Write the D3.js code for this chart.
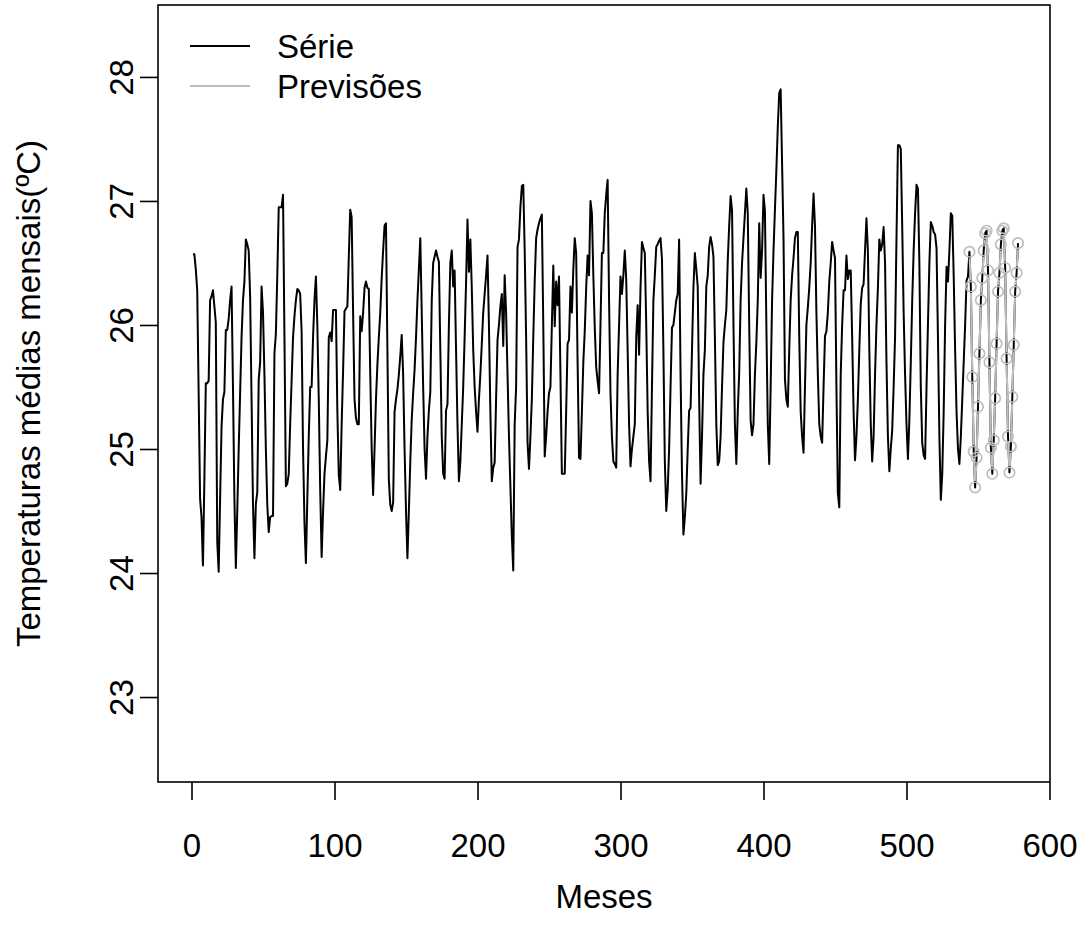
<!DOCTYPE html>
<html><head><meta charset="utf-8">
<script src="https://cdn.jsdelivr.net/npm/d3@7"></script>
<style>
body{margin:0;background:#fff}
svg{display:block}
text{font-family:"Liberation Sans",Arial,Helvetica,sans-serif;fill:#000}
</style>
</head><body>
<svg id="chart" width="1092" height="943"></svg>
<script>
// Observed monthly series (months 1..543)
const serie = [
26.57,26.57,26.45,26.28,25.45,24.60,24.45,24.06,24.75,25.53,25.53,25.55,
26.20,26.23,26.28,26.15,26.02,24.25,24.01,24.60,25.18,25.40,25.46,25.96,
25.96,26.05,26.20,26.31,25.50,24.60,24.04,24.50,25.00,25.45,25.90,26.20,
26.35,26.69,26.65,26.60,26.23,25.40,24.55,24.12,24.56,24.65,25.56,25.70,
26.31,26.10,25.60,25.00,24.55,24.33,24.45,24.46,24.46,25.77,25.93,26.40,
26.95,26.95,26.95,27.05,25.90,24.70,24.72,24.80,25.20,25.55,25.90,26.07,
26.20,26.29,26.28,26.25,25.95,25.00,24.40,24.08,24.60,25.10,25.50,25.50,
25.90,26.20,26.39,26.00,25.40,24.67,24.13,24.50,24.80,24.94,25.07,25.90,
25.94,25.87,26.12,26.12,26.12,25.30,24.79,24.67,25.20,25.63,26.11,26.13,
26.15,26.55,26.93,26.87,26.10,25.40,25.25,25.20,25.20,26.07,25.95,26.10,
26.30,26.35,26.30,26.29,25.60,25.00,24.63,25.00,25.40,25.68,25.90,26.10,
26.38,26.60,26.80,26.82,25.80,24.75,24.55,24.50,24.57,25.30,25.40,25.48,
25.60,25.75,25.92,25.60,25.00,24.50,24.12,24.50,24.90,25.24,25.45,25.64,
25.90,26.20,26.45,26.70,26.10,25.50,25.00,24.76,25.10,25.31,25.46,26.20,
26.50,26.55,26.60,26.55,26.51,25.80,25.10,24.80,24.76,25.31,25.36,26.00,
26.50,26.60,26.31,26.44,25.80,25.20,24.74,24.90,25.20,25.50,25.90,26.34,
26.85,26.43,26.69,26.30,25.80,25.50,25.30,25.14,25.40,25.60,25.85,26.10,
26.25,26.40,26.56,26.00,25.30,24.74,24.85,24.89,25.40,25.88,26.00,26.15,
26.25,25.83,26.40,26.10,25.60,25.10,24.70,24.30,24.02,25.20,25.50,26.63,
26.69,26.95,27.12,27.13,26.60,25.90,25.05,24.84,25.10,25.40,25.90,26.35,
26.70,26.77,26.82,26.86,26.89,26.00,24.94,25.10,25.30,25.45,25.50,26.00,
26.48,25.99,26.35,26.16,26.39,25.60,24.80,24.80,24.80,25.30,25.85,25.88,
26.31,26.10,26.45,26.70,26.58,25.70,24.93,24.92,25.30,25.70,25.95,26.30,
26.56,26.40,27.00,26.90,26.40,25.98,25.66,25.55,25.45,26.00,26.58,26.58,
26.90,27.05,27.17,26.20,25.45,25.10,24.90,24.88,24.85,25.60,26.00,26.39,
26.25,26.40,26.60,26.37,25.80,25.20,24.86,25.00,25.10,25.20,25.90,26.16,
25.76,26.30,26.67,26.62,26.58,26.00,25.30,24.90,24.74,25.50,26.20,26.40,
26.63,26.65,26.68,26.70,26.53,25.80,24.90,24.50,24.67,25.00,25.50,25.98,
26.00,26.10,26.20,26.25,26.69,25.60,24.80,24.31,24.45,24.64,25.00,25.31,
25.33,25.80,26.30,26.58,26.45,26.31,25.40,24.72,25.10,25.60,25.80,26.31,
26.40,26.63,26.71,26.65,26.55,25.90,25.20,24.87,24.90,25.10,25.50,25.86,
26.00,26.12,26.52,26.80,27.04,26.92,26.00,25.20,24.88,25.30,25.61,26.20,
26.50,26.70,26.90,27.10,26.90,26.00,25.23,25.11,25.20,25.60,25.86,26.20,
26.82,26.38,26.60,27.05,26.92,26.00,25.20,24.88,25.50,26.20,26.60,26.93,
27.25,27.60,27.87,27.90,27.30,26.70,25.56,25.40,25.34,25.80,26.20,26.40,
26.54,26.70,26.75,26.75,25.90,25.30,25.10,24.97,25.50,26.00,26.14,26.30,
26.50,26.80,27.06,26.80,26.10,25.60,25.20,25.10,25.05,25.50,25.91,25.95,
26.10,26.35,26.50,26.67,26.60,26.54,25.50,24.64,24.53,25.60,26.00,26.28,
26.28,26.56,26.37,26.44,26.44,25.90,25.30,24.91,25.10,25.40,25.80,26.17,
26.30,26.33,26.60,26.86,26.60,25.80,25.20,24.90,25.10,25.60,26.00,26.30,
26.69,26.60,26.65,26.79,26.50,25.70,25.10,24.82,25.00,25.15,25.50,25.90,
26.70,27.45,27.45,27.42,26.80,26.10,25.60,25.20,24.92,25.23,25.70,26.20,
26.60,26.90,27.13,27.10,26.50,25.50,25.05,24.95,24.92,25.50,26.00,26.50,
26.83,26.80,26.75,26.73,26.62,25.90,25.10,24.59,24.80,25.30,26.00,26.47,
26.35,26.60,26.90,26.88,26.40,25.80,25.30,25.00,24.88,25.10,25.40,25.70,
26.00,26.36,26.39
];
// Forecast values (months 544..578)
const previsoes = [
26.59,26.31,25.58,24.98,24.69,24.93,25.34,25.77,26.20,26.38,26.60,26.74,
26.76,26.44,25.70,25.01,24.80,25.07,25.41,25.85,26.27,26.42,26.65,26.76,
26.78,26.46,25.73,25.10,24.81,25.02,25.42,25.84,26.27,26.42,26.66
];
const firstForecastMonth = 544;
const xTicks = [0,100,200,300,400,500,600];
const yTicks = [23,24,25,26,27,28];
const legendLabels = ["Série","Previsões"];
const xTitle = "Meses";
const yTitle = "Temperaturas médias mensais(ºC)";

const FS = "33px";
const plot = {left:158, right:1050, top:5, bottom:782};
const svg = d3.select("#chart");

const x = d3.scaleLinear().domain([-23.43, 600.35]).range([plot.left, plot.right]);
const y = d3.scaleLinear().domain([22.315, 28.58]).range([plot.bottom, plot.top]);

const serieData = serie.map((v,i)=>({m:i+1, v}));
const prevData = previsoes.map((v,i)=>({m:firstForecastMonth+i, v}));
const allData = serieData.concat(prevData);

const line = d3.line().x(d=>x(d.m)).y(d=>y(d.v));

// black line (series + forecast)
svg.append("path").datum(allData)
  .attr("d", line).attr("fill","none").attr("stroke","#000")
  .attr("stroke-width",2).attr("stroke-linejoin","round");

// gray forecast, R type="b" style
const gray = "#BEBEBE";
const gap = 6.5;
const gSeg = svg.append("g");
for (let i=0;i<prevData.length-1;i++){
  const x1=x(prevData[i].m), y1=y(prevData[i].v), x2=x(prevData[i+1].m), y2=y(prevData[i+1].v);
  const dx=x2-x1, dy=y2-y1, d=Math.hypot(dx,dy);
  if (d>2*gap){
    const ux=dx/d, uy=dy/d;
    gSeg.append("line").attr("x1",x1+ux*gap).attr("y1",y1+uy*gap)
      .attr("x2",x2-ux*gap).attr("y2",y2-uy*gap)
      .attr("stroke",gray).attr("stroke-width",2);
  }
}
svg.append("g").selectAll("circle").data(prevData).join("circle")
  .attr("cx",d=>x(d.m)).attr("cy",d=>y(d.v)).attr("r",5.2)
  .attr("fill","none").attr("stroke",gray).attr("stroke-width",1.7);

// frame
svg.append("rect").attr("x",plot.left).attr("y",plot.top)
  .attr("width",plot.right-plot.left).attr("height",plot.bottom-plot.top)
  .attr("fill","none").attr("stroke","#000").attr("stroke-width",1.6);

// x axis
const xa = svg.append("g").attr("transform",`translate(0,${plot.bottom})`)
  .call(d3.axisBottom(x).tickValues(xTicks).tickSizeInner(18).tickSizeOuter(0).tickFormat(d3.format("d")));
xa.select(".domain").remove();
xa.selectAll(".tick line").attr("stroke","#000").attr("stroke-width",1.6);
xa.selectAll(".tick text").attr("y",75).attr("dy",null)
  .style("font-size",FS).attr("font-family",null);

// y axis
const ya = svg.append("g").attr("transform",`translate(${plot.left},0)`)
  .call(d3.axisLeft(y).tickValues(yTicks).tickSizeInner(18).tickSizeOuter(0).tickFormat(d3.format("d")));
ya.select(".domain").remove();
ya.selectAll(".tick line").attr("stroke","#000").attr("stroke-width",1.6);
ya.selectAll(".tick text").attr("x",null).attr("dy",null)
  .attr("transform","translate(-25,0) rotate(-90)")
  .attr("text-anchor","middle").style("font-size",FS).attr("font-family",null);

// titles
svg.append("text").attr("x",(plot.left+plot.right)/2).attr("y",908)
  .attr("text-anchor","middle").style("font-size",FS).text(xTitle);
svg.append("text").attr("transform",`translate(40,${(plot.top+plot.bottom)/2}) rotate(-90)`)
  .attr("text-anchor","middle").style("font-size",FS).text(yTitle);

// legend
const legColors = ["#000", gray];
const lg = svg.append("g");
legendLabels.forEach((lab,i)=>{
  const ly = 46 + i*40;
  lg.append("line").attr("x1",190).attr("x2",250).attr("y1",ly).attr("y2",ly)
    .attr("stroke",legColors[i]).attr("stroke-width",2);
  lg.append("text").attr("x",277).attr("y",ly+12).style("font-size",FS).text(lab);
});
</script>
</body></html>
